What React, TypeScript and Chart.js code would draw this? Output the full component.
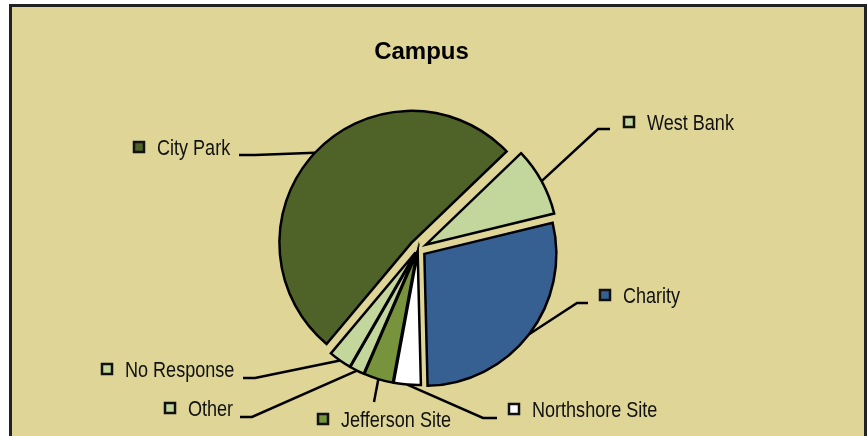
import React, { useEffect, useRef } from "react";
import { Chart, registerables } from "chart.js";

Chart.register(...registerables);

// ---- data ----
const TITLE = "Campus";
const CATEGORIES = [
  "City Park",
  "West Bank",
  "Charity",
  "Northshore Site",
  "Jefferson Site",
  "Other",
  "No Response",
];
const SHARES = [51.7, 8.4, 28.4, 3.3, 3.6, 1.8, 2.8];

// ---- styles / layout ----
const COLORS = ["#4F6228", "#C3D69B", "#376092", "#FFFFFF", "#77933C", "#C3D69B", "#C3D69B"];
const EXPLODE = [9, 9, 8, 4, 4, 4, 4];
// label layout: text x, baseline y, elbow point and end of leader
const LABEL_LAYOUT = [
  { tx: 157, ty: 155, elbow: [255, 155], end: [239, 155] },
  { tx: 647, ty: 130, elbow: [598, 129], end: [610, 129] },
  { tx: 623, ty: 303, elbow: [577, 303], end: [588, 303] },
  { tx: 532, ty: 417, elbow: [483, 418], end: [497, 418] },
  { tx: 341, ty: 427, elbow: [374, 402], end: [374, 402] },
  { tx: 188, ty: 416, elbow: [252, 417], end: [240, 417] },
  { tx: 125, ty: 377, elbow: [255, 378], end: [243, 378] },
];
const BG = "#DED597";
const FONT_FAMILY = "'Liberation Sans', Arial, sans-serif";

const explodePlugin = {
  id: "explodeSlices",
  afterDatasetsUpdate(chart: any) {
    const meta = chart.getDatasetMeta(0);
    meta.data.forEach((arc: any, i: number) => {
      const mid = (arc.startAngle + arc.endAngle) / 2;
      const d = EXPLODE[i] || 0;
      arc.x = arc.x + Math.cos(mid) * d;
      arc.y = arc.y + Math.sin(mid) * d;
    });
  },
};

const labelPlugin = {
  id: "calloutLabels",
  afterDatasetsDraw(chart: any) {
    const ctx = chart.ctx as CanvasRenderingContext2D;
    const meta = chart.getDatasetMeta(0);
    ctx.save();
    // title
    ctx.fillStyle = "#000";
    ctx.font = `bold 24px ${FONT_FAMILY}`;
    ctx.textAlign = "center";
    ctx.textBaseline = "alphabetic";
    ctx.fillText(TITLE, 421.5, 59);

    meta.data.forEach((arc: any, i: number) => {
      const L = LABEL_LAYOUT[i];
      const mid = (arc.startAngle + arc.endAngle) / 2;
      const ax = arc.x + Math.cos(mid) * arc.outerRadius;
      const ay = arc.y + Math.sin(mid) * arc.outerRadius;
      // leader
      ctx.strokeStyle = "#000";
      ctx.lineWidth = 2.5;
      ctx.lineJoin = "miter";
      ctx.beginPath();
      ctx.moveTo(ax, ay);
      ctx.lineTo(L.elbow[0], L.elbow[1]);
      ctx.lineTo(L.end[0], L.end[1]);
      ctx.stroke();
      // key square
      const sx = L.tx - 24;
      const sy = L.ty - 14;
      ctx.fillStyle = COLORS[i];
      ctx.fillRect(sx + 1, sy + 1, 10, 10);
      ctx.strokeStyle = "#111";
      ctx.lineWidth = 2.5;
      ctx.strokeRect(sx + 1, sy + 1, 10, 10);
      // text (condensed)
      ctx.save();
      ctx.translate(L.tx, L.ty);
      ctx.scale(0.82, 1);
      ctx.fillStyle = "#111";
      ctx.font = `22px ${FONT_FAMILY}`;
      ctx.textAlign = "left";
      ctx.textBaseline = "alphabetic";
      ctx.fillText(CATEGORIES[i], 0, 0);
      ctx.restore();
    });
    ctx.restore();
  },
};

export default function App() {
  const ref = useRef<HTMLCanvasElement | null>(null);
  useEffect(() => {
    if (!ref.current) return;
    const chart = new Chart(ref.current, {
      type: "pie",
      data: {
        labels: CATEGORIES,
        datasets: [
          {
            data: SHARES,
            backgroundColor: COLORS,
            borderColor: "#000",
            borderWidth: 2.5,
            borderJoinStyle: "miter",
          } as any,
        ],
      },
      options: {
        animation: false,
        responsive: false,
        devicePixelRatio: 1,
        events: [],
        rotation: 220,
        radius: 132,
        layout: { padding: { left: 100, right: 132, top: 100, bottom: 38 } },
        plugins: {
          legend: { display: false },
          title: { display: false },
          tooltip: { enabled: false },
        },
      } as any,
      plugins: [explodePlugin, labelPlugin],
    });
    return () => chart.destroy();
  }, []);

  return (
    <div style={{ position: "fixed", left: 0, top: 0, width: 868, height: 436, background: "#fff", overflow: "hidden" }}>
      <div
        style={{
          position: "absolute",
          left: 9,
          top: 4,
          width: 858,
          height: 470,
          boxSizing: "border-box",
          border: "3px solid #222",
          borderBottom: "none",
          background: BG,
        }}
      />
      <canvas
        ref={ref}
        width={868}
        height={436}
        style={{ position: "absolute", left: 0, top: 0, width: 868, height: 436 }}
      />
    </div>
  );
}
